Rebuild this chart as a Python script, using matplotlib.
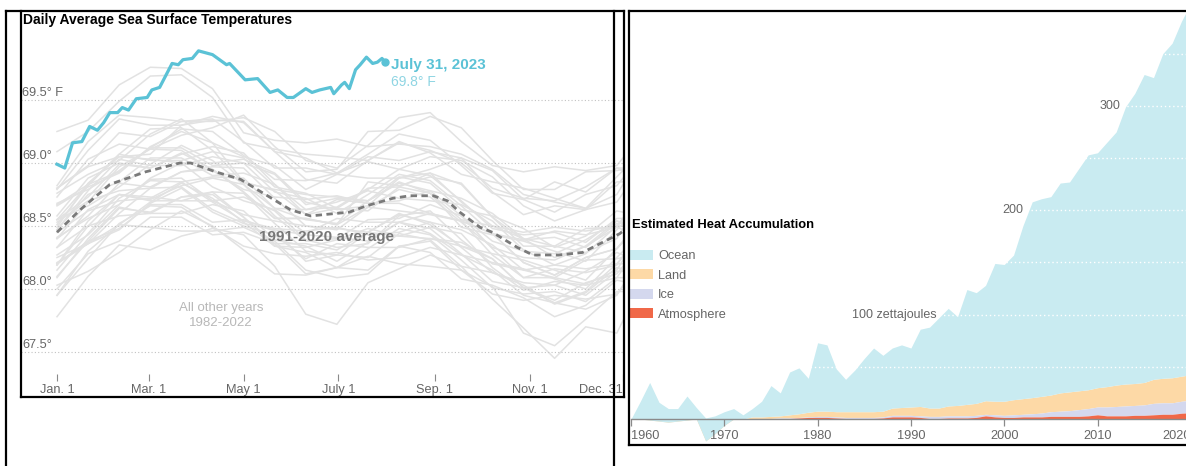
import numpy as np
import matplotlib
matplotlib.use('Agg')
import matplotlib.pyplot as plt
from matplotlib.lines import Line2D
from matplotlib.patches import Patch
from matplotlib.transforms import blended_transform_factory

plt.rcParams['font.family'] = ['Liberation Sans', 'DejaVu Sans']

# ---------------- Left chart data: daily sea surface temperature (deg F) ----------------
sample_days = [0, 20, 40, 60, 80, 100, 120, 140, 160, 180, 200, 220, 240, 260, 280, 300, 320, 340, 360, 364]

other_years = list(range(1982, 2023))
other_years_temps = [
    [68.00, 68.28, 68.38, 68.57, 68.57, 68.43, 68.45, 68.36, 68.12, 68.17, 68.15, 68.34, 68.29, 68.08, 68.03, 67.93, 67.78, 67.87, 68.07, 68.06],  # 1982
    [68.19, 68.50, 68.75, 68.70, 68.70, 68.77, 68.57, 68.34, 68.29, 68.17, 68.32, 68.48, 68.43, 68.23, 68.01, 67.96, 67.98, 67.90, 68.09, 68.09],  # 1983
    [68.03, 68.14, 68.29, 68.47, 68.62, 68.50, 68.31, 68.12, 68.11, 68.17, 68.26, 68.20, 68.18, 68.15, 68.02, 67.65, 67.55, 67.76, 67.98, 67.98],  # 1984
    [67.78, 68.10, 68.35, 68.31, 68.42, 68.48, 68.43, 68.18, 67.80, 67.72, 68.05, 68.16, 68.27, 68.18, 67.92, 67.69, 67.45, 67.70, 67.65, 67.75],  # 1985
    [67.95, 68.24, 68.52, 68.66, 68.65, 68.49, 68.34, 68.28, 68.26, 68.29, 68.23, 68.25, 68.33, 68.27, 68.15, 67.95, 67.89, 67.84, 67.95, 68.03],  # 1986
    [68.20, 68.38, 68.64, 68.61, 68.73, 68.75, 68.57, 68.36, 68.36, 68.31, 68.45, 68.42, 68.49, 68.44, 68.17, 67.99, 68.06, 68.03, 68.09, 68.16],  # 1987
    [68.21, 68.36, 68.47, 68.68, 68.80, 68.61, 68.50, 68.43, 68.24, 68.36, 68.33, 68.33, 68.40, 68.34, 68.24, 68.01, 67.91, 68.05, 68.12, 68.18],  # 1988
    [67.95, 68.30, 68.51, 68.49, 68.46, 68.46, 68.49, 68.38, 68.15, 68.09, 68.12, 68.34, 68.38, 68.15, 67.96, 67.91, 67.95, 67.92, 67.96, 68.02],  # 1989
    [68.20, 68.36, 68.60, 68.80, 68.81, 68.63, 68.52, 68.47, 68.43, 68.41, 68.38, 68.53, 68.44, 68.27, 68.21, 68.16, 68.08, 68.00, 68.25, 68.30],  # 1990
    [68.33, 68.50, 68.58, 68.60, 68.73, 68.77, 68.76, 68.52, 68.30, 68.27, 68.45, 68.59, 68.53, 68.33, 68.13, 68.05, 68.03, 68.14, 68.29, 68.27],  # 1991
    [68.10, 68.38, 68.48, 68.67, 68.67, 68.53, 68.55, 68.46, 68.22, 68.27, 68.25, 68.44, 68.39, 68.18, 68.13, 68.03, 67.88, 67.97, 68.17, 68.16],  # 1992
    [68.09, 68.40, 68.65, 68.60, 68.60, 68.67, 68.62, 68.39, 68.34, 68.22, 68.37, 68.53, 68.48, 68.28, 68.06, 68.01, 68.03, 67.95, 68.14, 68.14],  # 1993
    [68.25, 68.36, 68.51, 68.69, 68.84, 68.72, 68.53, 68.34, 68.33, 68.39, 68.48, 68.42, 68.40, 68.37, 68.24, 68.01, 67.89, 67.98, 68.20, 68.20],  # 1994
    [68.33, 68.63, 68.75, 68.71, 68.82, 68.88, 68.83, 68.58, 68.38, 68.40, 68.55, 68.56, 68.67, 68.58, 68.32, 68.09, 68.09, 68.23, 68.24, 68.25],  # 1995
    [68.15, 68.44, 68.72, 68.86, 68.85, 68.69, 68.54, 68.48, 68.46, 68.49, 68.43, 68.45, 68.53, 68.47, 68.35, 68.15, 68.09, 68.04, 68.15, 68.23],  # 1996
    [68.40, 68.58, 68.84, 68.81, 68.93, 68.95, 68.77, 68.56, 68.56, 68.51, 68.85, 68.82, 68.89, 68.84, 68.57, 68.39, 68.46, 68.43, 68.49, 68.56],  # 1997
    [68.76, 68.91, 69.02, 69.23, 69.35, 69.16, 68.85, 68.78, 68.59, 68.71, 68.68, 68.68, 68.60, 68.54, 68.44, 68.21, 68.11, 68.25, 68.32, 68.38],  # 1998
    [68.19, 68.54, 68.75, 68.73, 68.70, 68.70, 68.73, 68.62, 68.39, 68.33, 68.36, 68.58, 68.62, 68.39, 68.20, 68.15, 68.19, 68.16, 68.20, 68.26],  # 1999
    [68.27, 68.43, 68.67, 68.87, 68.88, 68.70, 68.59, 68.54, 68.50, 68.48, 68.45, 68.60, 68.51, 68.34, 68.28, 68.23, 68.15, 68.07, 68.32, 68.37],  # 2000
    [68.53, 68.70, 68.78, 68.80, 68.93, 68.97, 68.96, 68.72, 68.50, 68.47, 68.65, 68.79, 68.73, 68.53, 68.33, 68.25, 68.23, 68.34, 68.49, 68.47],  # 2001
    [68.47, 68.75, 68.85, 69.04, 69.04, 68.90, 68.92, 68.83, 68.59, 68.64, 68.62, 68.81, 68.76, 68.55, 68.50, 68.40, 68.25, 68.34, 68.54, 68.53],  # 2002
    [68.47, 68.78, 69.03, 68.98, 68.98, 69.05, 69.00, 68.77, 68.72, 68.60, 68.75, 68.91, 68.86, 68.66, 68.44, 68.39, 68.41, 68.33, 68.52, 68.52],  # 2003
    [68.55, 68.66, 68.81, 68.99, 69.14, 69.02, 68.83, 68.64, 68.63, 68.69, 68.78, 68.72, 68.70, 68.67, 68.54, 68.31, 68.19, 68.28, 68.50, 68.50],  # 2004
    [68.58, 68.88, 69.00, 68.96, 69.07, 69.13, 69.08, 68.83, 68.63, 68.65, 68.80, 68.81, 68.92, 68.83, 68.57, 68.34, 68.34, 68.48, 68.49, 68.50],  # 2005
    [68.40, 68.69, 68.97, 69.11, 69.10, 68.94, 68.79, 68.73, 68.71, 68.74, 68.68, 68.70, 68.78, 68.72, 68.60, 68.40, 68.34, 68.29, 68.40, 68.48],  # 2006
    [68.55, 68.73, 68.99, 68.96, 69.08, 68.95, 68.77, 68.56, 68.56, 68.51, 68.65, 68.62, 68.59, 68.54, 68.27, 68.09, 68.16, 68.13, 68.19, 68.26],  # 2007
    [68.41, 68.56, 68.67, 68.88, 69.00, 68.81, 68.70, 68.63, 68.44, 68.56, 68.53, 68.53, 68.60, 68.54, 68.44, 68.21, 68.11, 68.25, 68.32, 68.38],  # 2008
    [68.49, 68.84, 69.05, 69.03, 69.00, 69.00, 69.03, 68.92, 68.69, 68.63, 68.66, 68.88, 68.92, 68.69, 68.50, 68.45, 68.49, 68.46, 68.50, 68.56],  # 2009
    [68.67, 68.83, 69.07, 69.27, 69.28, 69.10, 68.84, 68.79, 68.75, 68.73, 68.70, 68.85, 68.76, 68.49, 68.43, 68.38, 68.30, 68.22, 68.47, 68.52],  # 2010
    [68.45, 68.62, 68.70, 68.72, 68.85, 68.89, 68.88, 68.64, 68.55, 68.52, 68.70, 68.84, 68.78, 68.58, 68.38, 68.30, 68.28, 68.39, 68.54, 68.52],  # 2011
    [68.55, 68.83, 68.93, 69.12, 69.12, 68.98, 69.00, 68.91, 68.67, 68.72, 68.70, 68.89, 68.84, 68.63, 68.58, 68.48, 68.33, 68.42, 68.62, 68.61],  # 2012
    [68.51, 68.82, 69.07, 69.02, 69.02, 69.09, 69.04, 68.81, 68.76, 68.64, 68.79, 68.95, 68.90, 68.70, 68.48, 68.43, 68.45, 68.37, 68.56, 68.56],  # 2013
    [68.68, 68.79, 68.94, 69.12, 69.27, 69.25, 69.06, 68.87, 68.86, 68.92, 69.01, 68.95, 69.05, 69.02, 68.89, 68.66, 68.54, 68.63, 68.85, 68.85],  # 2014
    [68.73, 69.03, 69.15, 69.11, 69.22, 69.28, 69.38, 69.13, 68.93, 68.95, 69.25, 69.26, 69.37, 69.28, 69.02, 68.79, 68.79, 68.93, 68.94, 68.95],  # 2015
    [69.25, 69.34, 69.62, 69.76, 69.75, 69.59, 69.24, 69.18, 69.16, 69.19, 69.13, 69.15, 69.13, 69.07, 68.95, 68.75, 68.69, 68.64, 68.75, 68.83],  # 2016
    [68.80, 68.98, 69.24, 69.21, 69.33, 69.35, 69.17, 68.96, 68.96, 68.91, 69.05, 69.02, 69.09, 69.04, 68.77, 68.59, 68.66, 68.63, 68.69, 68.76],  # 2017
    [68.66, 68.81, 68.92, 69.13, 69.25, 69.16, 69.05, 68.98, 68.79, 68.91, 68.88, 68.88, 68.95, 69.04, 68.94, 68.71, 68.61, 68.75, 68.82, 68.88],  # 2018
    [68.82, 69.17, 69.38, 69.36, 69.33, 69.33, 69.36, 69.25, 69.02, 68.96, 69.14, 69.36, 69.40, 69.17, 68.98, 68.93, 68.97, 68.94, 68.98, 69.04],  # 2019
    [69.09, 69.25, 69.49, 69.69, 69.70, 69.52, 69.16, 69.11, 69.07, 69.05, 69.02, 69.17, 69.08, 68.91, 68.85, 68.80, 68.72, 68.64, 68.89, 68.94],  # 2020
    [68.80, 68.97, 69.05, 69.07, 69.30, 69.34, 69.33, 69.09, 68.87, 68.84, 69.02, 69.16, 69.10, 69.00, 68.80, 68.72, 68.70, 68.81, 68.96, 68.94],  # 2021
    [68.79, 69.10, 69.35, 69.30, 69.30, 69.37, 69.32, 69.09, 69.04, 68.92, 69.07, 69.23, 69.18, 68.98, 68.76, 68.71, 68.85, 68.77, 68.96, 68.96],  # 2022
]

avg_days = [0, 15, 34, 57, 79, 86, 102, 118, 134, 150, 163, 188, 199, 216, 227, 242, 251, 259, 272, 280, 296, 306, 323, 338, 354, 362, 364]
avg_temps = [68.45, 68.63, 68.83, 68.93, 69.00, 69.00, 68.93, 68.87, 68.75, 68.63, 68.58, 68.61, 68.66, 68.72, 68.74, 68.74, 68.70, 68.61, 68.49, 68.45, 68.33, 68.27, 68.27, 68.29, 68.39, 68.44, 68.46]

days_2023 = [0, 5, 10, 16, 21, 26, 30, 34, 39, 42, 46, 51, 58, 61, 66, 74, 78, 81, 87, 91, 94, 100, 109, 111, 121, 129, 137, 142, 148, 152, 160, 164, 169, 176, 178, 183, 185, 188, 192, 195, 199, 203, 206, 209, 211]
temps_2023 = [68.99, 68.96, 69.16, 69.17, 69.29, 69.26, 69.32, 69.40, 69.40, 69.44, 69.42, 69.51, 69.52, 69.58, 69.60, 69.79, 69.78, 69.82, 69.83, 69.89, 69.88, 69.86, 69.78, 69.79, 69.66, 69.67, 69.56, 69.58, 69.52, 69.52, 69.59, 69.56, 69.58, 69.60, 69.55, 69.62, 69.64, 69.59, 69.74, 69.78, 69.84, 69.79, 69.80, 69.83, 69.80]

temp_grid = [67.5, 68.0, 68.5, 69.0, 69.5]
temp_grid_labels = ['67.5°', '68.0°', '68.5°', '69.0°', '69.5° F']
date_ticks = [0, 59, 120, 181, 243, 304, 364]
date_labels = ['Jan. 1', 'Mar. 1', 'May 1', 'July 1', 'Sep. 1', 'Nov. 1', 'Dec. 31']

# ---------------- Right chart data: heat accumulation (zettajoules) ----------------
years = list(range(1960, 2021))
atmosphere = [0, 0, 0, 0, 0, 0, 0, 0, 0, 0,
              0, 0, 0, 0, 0, 0, 0.5, 0.5, 1, 1.5,
              1.5, 1.5, 1, 0.5, 0.5, 0.5, 0.5, 1, 2, 2,
              2, 1.5, 0.5, 0.5, 1, 1, 1, 1.5, 3, 2,
              1.5, 1.5, 2, 2, 2, 2.5, 2.5, 2.5, 2.5, 3,
              4, 3, 3, 3, 3.5, 3.5, 4, 4.5, 4.5, 5.5,
              6]
ice = [0, 0, 0, 0, 0, 0, 0, 0, 0, 0,
       0, 0, 0, 0.5, 0.5, 0.5, 0.5, 0.5, 0.5, 0.5,
       1, 1, 1, 1, 1, 1, 1, 1, 1.5, 1.5,
       1.5, 1.5, 2, 2, 2, 2, 2, 2, 1.5, 2,
       2, 2.5, 2.5, 3, 3.7, 4.5, 5, 5.5, 6.5, 7,
       7.5, 8.5, 9, 9.5, 9.5, 10, 11, 11, 11, 11.5,
       12]
land = [0, 0, -1, -2, -3, -2, -1, 0, -21, -14,
        -6, 0, 0, 1.5, 1.5, 2, 2, 3, 3.5, 4.5,
        5, 5, 5, 5.5, 5.5, 5.5, 5.5, 5.5, 7, 7.5,
        8, 9, 8, 8, 9.5, 10, 11, 11.5, 13, 13,
        13.5, 14.5, 15, 15.5, 16, 16, 17.5, 18, 18, 18,
        18.5, 19.5, 20.5, 21, 21, 21.5, 23, 23.5, 24, 24,
        24.5]
ocean = [0, 17, 36, 18, 13, 12, 23, 11, 22, 17,
         13, 10, 4, 8, 15, 29.5, 22, 41, 44, 32.5,
         65.5, 63.5, 41, 31, 40, 51, 61, 53.5, 57.5, 60,
         56.5, 74, 77.5, 86.5, 93.5, 85, 110, 106, 110.5, 132,
         131, 138.5, 165.5, 187.5, 189.3, 190, 201, 201, 213, 225,
         225, 234, 242.5, 265.5, 278, 295, 289, 311, 320.5, 340,
         355.5]
component_names = ['Ocean', 'Land', 'Ice', 'Atmosphere']
heat_grid = [50, 100, 150, 200, 250, 300, 350]
year_ticks = [1960, 1970, 1980, 1990, 2000, 2010, 2020]

# ---------------- Styles ----------------
W, H = 1186, 466
TEAL = '#5bc2d6'
TEAL_LIGHT = '#8fd5e3'
GRAY_TXT = '#666666'
C_OCEAN, C_LAND, C_ICE, C_ATM = '#c9ebf1', '#fdd9a6', '#d4d8ee', '#f06848'

fig = plt.figure(figsize=(W / 100, H / 100), dpi=100)


def fx(px):
    return px / W


def fy(py):
    return 1 - py / H


# ================= Left chart =================
PX_PER_DAY = 1.555
PX_PER_DEG = 126.0
ax = fig.add_axes([fx(21), fy(374), fx(624) - fx(21), fy(11) - fy(374)])
ax.set_xlim(-(57 - 21) / PX_PER_DAY, (624 - 57) / PX_PER_DAY)
ax.set_ylim(69.5 - (374 - 100) / PX_PER_DEG, 69.5 + (100 - 11) / PX_PER_DEG)
for s in ax.spines.values():
    s.set_visible(False)
ax.set_facecolor('none')

for row in other_years_temps:
    ax.plot(sample_days, row, color='#e2e2e2', lw=1.1, zorder=1, solid_joinstyle='round')

btr = blended_transform_factory(ax.transAxes, ax.transData)
for v, lab in zip(temp_grid, temp_grid_labels):
    ax.axhline(v, color='#c2c2c2', lw=0.8, ls=(0, (1, 2)), zorder=2)
    ax.text(0.002, v + 4 / PX_PER_DEG, lab, transform=btr, ha='left', va='baseline',
            fontsize=9.2, color=GRAY_TXT, zorder=5)

ax.plot(avg_days, avg_temps, color='#7a7a7a', lw=2.0, ls=(0, (2.3, 1.6)), zorder=3)
ax.plot(days_2023, temps_2023, color=TEAL, lw=2.3, zorder=4, solid_joinstyle='round')
ax.plot(days_2023[-1:], temps_2023[-1:], 'o', ms=5, color=TEAL, zorder=4)

ax.text(days_2023[-1] + 3.8, 69.78, 'July 31, 2023', color=TEAL, fontsize=11,
        fontweight='bold', ha='left', va='center')
ax.text(days_2023[-1] + 3.8, 69.645, '69.8° F', color=TEAL_LIGHT, fontsize=10,
        ha='left', va='center')
ax.text(173, 68.413, '1991-2020 average', color='#777777', fontsize=11,
        fontweight='bold', ha='center', va='center', zorder=6)
ax.text(105.5, 67.79, 'All other years\n1982-2022', color='#b8b8b8', fontsize=9.5,
        ha='center', va='center', linespacing=1.3, zorder=6)

ax.set_yticks([])
ax.set_xticks(date_ticks)
ax.set_xticklabels(date_labels)
ax.tick_params(axis='x', direction='out', length=5, width=0.8, color='#8a8a8a',
               labelsize=9.2, labelcolor=GRAY_TXT, pad=2)
ax.get_xticklabels()[-1].set_horizontalalignment('right')

fig.text(fx(23), fy(20), 'Daily Average Sea Surface Temperatures', fontsize=10,
         fontweight='bold', ha='left', va='center', color='black')

# ================= Right chart =================
PX_PER_YEAR = 9.33
PX_PER_ZJ = 1.044
ax2 = fig.add_axes([fx(631), fy(444), fx(1236) - fx(631), fy(11) - fy(444)])
ax2.set_xlim(1960, 1960 + (1236 - 631) / PX_PER_YEAR)
ax2.set_ylim(-(444 - 419) / PX_PER_ZJ, (419 - 11) / PX_PER_ZJ)
ax2.set_facecolor('none')

yrs = np.array(years)
a_top = np.array(atmosphere)
i_top = a_top + np.array(ice)
l_top = i_top + np.array(land)
o_top = l_top + np.array(ocean)
ax2.fill_between(yrs, 0, a_top, color=C_ATM, lw=0, zorder=1.3)
ax2.fill_between(yrs, a_top, i_top, color=C_ICE, lw=0, zorder=1.2)
ax2.fill_between(yrs, i_top, l_top, color=C_LAND, lw=0, zorder=1.1)
ax2.fill_between(yrs, l_top, o_top, color=C_OCEAN, lw=0, zorder=1.4)

for v in heat_grid:
    ax2.axhline(v, color='white', lw=1.0, ls=(0, (1, 2)), zorder=2)

ax2.text(1960 + (937 - 631) / PX_PER_YEAR, 100, '100 zettajoules', ha='right', va='center',
         fontsize=9, color=GRAY_TXT)
ax2.text(1960 + (1023 - 631) / PX_PER_YEAR, 200, '200', ha='right', va='center',
         fontsize=9, color=GRAY_TXT)
ax2.text(1960 + (1120 - 631) / PX_PER_YEAR, 300, '300', ha='right', va='center',
         fontsize=9, color=GRAY_TXT)

for k in ['top', 'right', 'left']:
    ax2.spines[k].set_visible(False)
ax2.spines['bottom'].set_position(('data', 0))
ax2.spines['bottom'].set_color('#8a8a8a')
ax2.spines['bottom'].set_linewidth(1.0)
ax2.spines['bottom'].set_zorder(3)
ax2.set_yticks([])
ax2.set_xticks(year_ticks)
ax2.set_xticklabels([str(y) for y in year_ticks])
ax2.tick_params(axis='x', direction='out', length=5, width=0.9, color='#8a8a8a',
                labelsize=9.2, labelcolor=GRAY_TXT, pad=3)
ax2.get_xticklabels()[0].set_horizontalalignment('left')
ax2.get_xticklabels()[-1].set_horizontalalignment('right')

fig.text(fx(632), fy(225), 'Estimated Heat Accumulation', fontsize=9.4,
         fontweight='bold', ha='left', va='center', color='black')
handles = [Patch(facecolor=c, edgecolor='none') for c in (C_OCEAN, C_LAND, C_ICE, C_ATM)]
fig.legend(handles, component_names, loc='upper left', bbox_to_anchor=(fx(630), fy(250)),
           bbox_transform=fig.transFigure, frameon=False, fontsize=9.2,
           handlelength=1.8, handleheight=0.8, handletextpad=0.4, labelspacing=0.56,
           borderpad=0, borderaxespad=0, labelcolor=GRAY_TXT)

# ================= Frames =================
LW = 1.6


def seg(x0, y0, x1, y1):
    fig.add_artist(Line2D([fx(x0), fx(x1)], [fy(y0), fy(y1)], transform=fig.transFigure,
                          color='black', lw=LW, solid_capstyle='projecting', zorder=10))


# outer left frame
seg(6, 11, 6, 470)
seg(6, 11, 624, 11)
seg(614, 11, 614, 470)
# inner left frame (chart box)
seg(21, 11, 21, 397)
seg(21, 397, 624, 397)
seg(624, 11, 624, 397)
# right frame
seg(629, 11, 1190, 11)
seg(629, 11, 629, 445)
seg(629, 445, 1190, 445)

fig.savefig('out.png', dpi=100)
